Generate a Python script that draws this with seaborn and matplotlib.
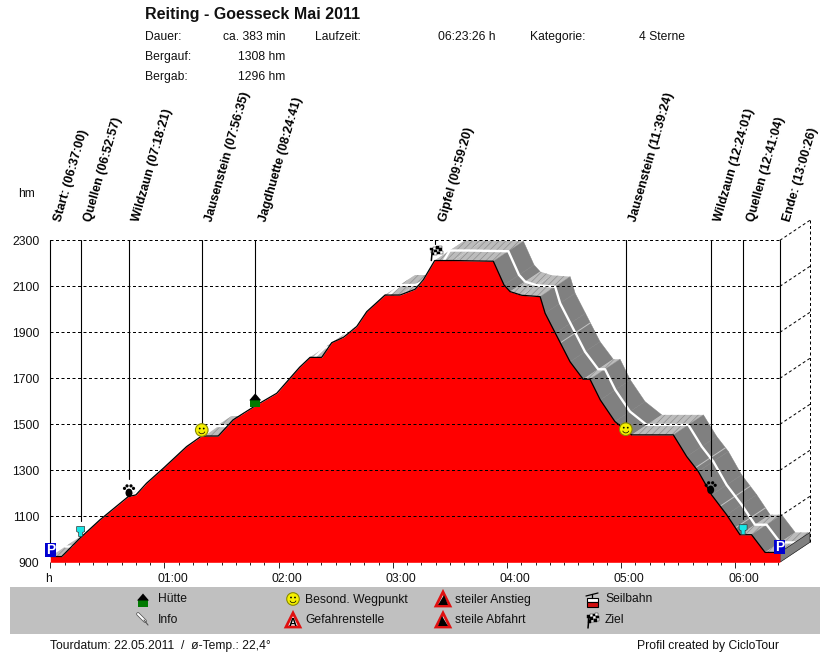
import matplotlib
matplotlib.use("Agg")
import matplotlib.pyplot as plt
from matplotlib.patches import Circle, Ellipse, Polygon, Rectangle, Wedge
from matplotlib.transforms import ScaledTranslation
import numpy as np
import pandas as pd
import seaborn as sns

# elevation profile
minutes = [0, 6, 15.6, 26, 41, 45, 50.6, 59.4, 71.6, 79.5, 88.3, 96, 108.4, 119, 131,
           136.5, 142.6, 147.9, 154, 161, 166.3, 175.9, 183.8, 191.7, 196, 202, 211.8,
           232.8, 238.4, 241.6, 247.7, 257.4, 260, 265.4, 273.1, 280, 283.6, 289, 296.7,
           305.5, 327.4, 334.4, 340.5, 347.5, 355.4, 362.4, 368.5, 375.6, 383.4]
elevation = [925, 925, 1005, 1084, 1186, 1193, 1244, 1309, 1403, 1449, 1449, 1519, 1584, 1635, 1748,
             1791, 1791, 1855, 1878, 1925, 1990, 2062, 2062, 2087, 2128, 2212, 2212,
             2209, 2106, 2077, 2061, 2055, 1983, 1896, 1772, 1696, 1696, 1606, 1512,
             1454, 1454, 1360, 1295, 1193, 1107, 1020, 1020, 943, 943]

way_names = ["Start:", "Quellen", "Wildzaun", "Jausenstein", "Jagdhuette", "Gipfel",
             "Jausenstein", "Wildzaun", "Quellen", "Ende:"]
way_times = ["06:37:00", "06:52:57", "07:18:21", "07:56:35", "08:24:41", "09:59:20",
             "11:39:24", "12:24:01", "12:41:04", "13:00:26"]
way_icons = ["park", "cup", "paw", "smile", "hut", "flag", "smile", "paw", "cup", "park"]
way_lift = [7, 6, 6, 6, 6, 8, 1, 6, 5, 5]

# light streaks across the dark ribbon
streak_times = [268, 339, 352, 360]

y_ticks = [900, 1100, 1300, 1500, 1700, 1900, 2100, 2300]
x_ticks = [0, 60, 120, 180, 240, 300, 360]
x_labels = ["h", "01:00", "02:00", "03:00", "04:00", "05:00", "06:00"]

legend_rows = [("Hütte", "Info"), ("Besond. Wegpunkt", "Gefahrenstelle"),
               ("steiler Anstieg", "steile Abfahrt"), ("Seilbahn", "Ziel")]

W, H = 830, 652
PX_MIN = 1.903
PX_HM = 0.23
X0, Y0 = 50.3, 562.3
DEPTH_MIN, DEPTH_HM = 15.8, 87

sns.set_style("white")
plt.rcParams["font.family"] = ["Liberation Sans", "DejaVu Sans"]
plt.rcParams["hatch.linewidth"] = 0.5
plt.rcParams["text.color"] = "#111111"
FS = 8.7

df = pd.DataFrame({"minutes": minutes, "elevation": elevation})
t = df["minutes"].to_numpy()
e = df["elevation"].to_numpy()

fig = plt.figure(figsize=(W / 100, H / 100), dpi=100, facecolor="white")
right_px, top_px = 818, 212
ax = fig.add_axes([X0 / W, (H - Y0) / H, (right_px - X0) / W, (Y0 - top_px) / H])
ax.set_xlim(0, (right_px - X0) / PX_MIN)
ax.set_ylim(900, 900 + (Y0 - top_px) / PX_HM)
ax.patch.set_alpha(0)

# the 3D ribbon behind the profile
for i in range(len(t) - 1):
    slope = (e[i + 1] - e[i]) / (t[i + 1] - t[i])
    quad = [(t[i], e[i]), (t[i + 1], e[i + 1]),
            (t[i + 1] + DEPTH_MIN, e[i + 1] + DEPTH_HM), (t[i] + DEPTH_MIN, e[i] + DEPTH_HM)]
    if slope < -3:
        ax.add_patch(Polygon(quad, facecolor="#808080", edgecolor="#808080", lw=0.3, zorder=1))
    else:
        ax.add_patch(Polygon(quad, facecolor="#bcbcbc", edgecolor="#8e8e8e", hatch="/////", lw=0, zorder=1))

for st in streak_times:
    se = np.interp(st, t, e)
    ax.plot([st, st + DEPTH_MIN], [se, se + DEPTH_HM], color="#c4c4c4", lw=0.7, zorder=1.5)

sns.lineplot(x=t + DEPTH_MIN / 2, y=e + DEPTH_HM / 2, color="white", lw=1.7, ax=ax, zorder=2, sort=False)

# end face of the ribbon
ax.add_patch(Polygon([(t[-1], 900), (t[-1], e[-1]), (t[-1] + DEPTH_MIN, e[-1] + DEPTH_HM),
                      (t[-1] + DEPTH_MIN, 900 + DEPTH_HM)],
                     facecolor="#808080", edgecolor="black", lw=0.4, zorder=2))

ax.fill_between(t, 900, e, color="#ff0000", lw=0, zorder=3)
sns.lineplot(data=df, x="minutes", y="elevation", color="black", lw=0.9, ax=ax, zorder=4)

# grid and back wall
dash = (0, (3, 2.5))
for y in y_ticks[1:]:
    ax.plot([0, t[-1]], [y, y], color="black", lw=0.72, ls=dash, zorder=5)
    ax.plot([t[-1], t[-1] + DEPTH_MIN], [y, y + DEPTH_HM], color="black", lw=0.72, ls=dash, zorder=5)
ax.plot([t[-1] + DEPTH_MIN] * 2, [900 + DEPTH_HM, 2300 + DEPTH_HM], color="black", lw=0.72, ls=dash, zorder=5)

ax.set_yticks(y_ticks)
ax.set_xticks(x_ticks, x_labels)
ax.set_xticks(np.arange(0, 383, 7.5), minor=True)
ax.set_xlabel("")
ax.set_ylabel("")
ax.tick_params(axis="y", length=0, pad=8, labelsize=FS, labelcolor="#111111")
ax.tick_params(axis="x", which="major", length=4, width=0.7, pad=4, labelsize=FS, labelcolor="#111111", bottom=True)
ax.tick_params(axis="x", which="minor", length=2, width=0.7, bottom=True)
for lbl in ax.get_xticklabels():
    if lbl.get_text() != "h":
        lbl.set_transform(lbl.get_transform() + ScaledTranslation(8 / 100, 0, fig.dpi_scale_trans))
    else:
        lbl.set_transform(lbl.get_transform() + ScaledTranslation(-2 / 100, 0, fig.dpi_scale_trans))
sns.despine(ax=ax, left=True, bottom=True, top=True, right=True)

# overlay in picture pixels for header, legend and icons
ov = fig.add_axes([0, 0, 1, 1], zorder=10)
ov.set_xlim(0, W)
ov.set_ylim(H, 0)
ov.axis("off")


def park(x, y):
    ov.add_patch(Rectangle((x - 5.5, y - 7), 11, 14, color="#0000d0", lw=0))
    ov.text(x, y, "P", color="white", fontsize=10, fontweight="bold", ha="center", va="center")


def cup(x, y):
    ov.add_patch(Polygon([(x - 4, y - 5), (x + 4, y - 5), (x + 4, y), (x + 2, y + 1), (x + 2, y + 5),
                          (x - 2, y + 5), (x - 2, y + 1), (x - 4, y)],
                         facecolor="#19e6e6", edgecolor="#333333", lw=0.5))


def paw(x, y):
    ov.add_patch(Ellipse((x, y + 2.5), 7, 8.5, color="black", lw=0))
    for dx, dy in [(-4.5, -2), (-2, -4.5), (2, -4.5), (4.5, -2)]:
        ov.add_patch(Circle((x + dx, y + dy), 1.6, color="black", lw=0))


def smile(x, y):
    ov.add_patch(Circle((x, y), 6.3, facecolor="#f5f000", edgecolor="#8a8a00", lw=0.8))
    ov.add_patch(Circle((x - 2, y - 1.5), 0.9, color="black", lw=0))
    ov.add_patch(Circle((x + 2, y - 1.5), 0.9, color="black", lw=0))
    ov.add_patch(Wedge((x, y + 0.5), 3.6, 20, 160, width=0.7, color="black", lw=0))


def hut(x, y):
    ov.add_patch(Rectangle((x - 5, y), 10, 7, color="#007a00", lw=0))
    ov.add_patch(Polygon([(x - 6, y + 0.5), (x, y - 6.5), (x + 6, y + 0.5)], color="black", lw=0))


def flag(x, y):
    ov.plot([x - 3, x - 4], [y - 3, y + 8], color="black", lw=1.1)
    for row in range(3):
        for col in range(4):
            sx = x - 5 + col * 2.8 + row * 0.6
            sy = y - 5 + row * 2.6 - col * 0.6
            c = "black" if (row + col) % 2 == 0 else "white"
            ov.add_patch(Rectangle((sx, sy), 2.8, 2.6, facecolor=c, edgecolor="black", lw=0.3))


def info(x, y):
    ov.plot([x - 5, x + 2], [y - 6, y + 1], color="#555555", lw=2.6, solid_capstyle="round")
    ov.plot([x - 5, x + 2], [y - 6, y + 1], color="white", lw=1.5, solid_capstyle="round")
    ov.plot([x + 1, x + 5], [y, y + 5], color="#555555", lw=0.8)


def warn(x, y, kind):
    ov.add_patch(Polygon([(x - 7, y + 7), (x, y - 7), (x + 7, y + 7)], facecolor="white",
                         edgecolor="#e01010", lw=2, joinstyle="miter"))
    if kind == "danger":
        ov.text(x, y + 2.5, "A", color="black", fontsize=8, fontweight="bold", ha="center", va="center")
    elif kind == "up":
        ov.add_patch(Polygon([(x - 5, y + 6), (x + 5, y + 6), (x + 1, y - 4)], color="black", lw=0))
    else:
        ov.add_patch(Polygon([(x - 5, y + 6), (x + 5, y + 6), (x - 1, y - 4)], color="black", lw=0))


def cable(x, y):
    ov.plot([x - 6, x + 6], [y - 4, y - 7], color="black", lw=0.9)
    ov.plot([x, x], [y - 6, y - 2], color="black", lw=0.9)
    ov.add_patch(Rectangle((x - 5.5, y - 2), 11, 4, facecolor="white", edgecolor="black", lw=0.8))
    ov.add_patch(Rectangle((x - 5.5, y + 2), 11, 4.5, facecolor="#d01010", edgecolor="black", lw=0.8))


icon_draw = {"park": park, "cup": cup, "paw": paw, "smile": smile, "hut": hut, "flag": flag}
icon_half = {"park": 7, "cup": 11, "paw": 11, "smile": 6, "hut": 6, "flag": 9}

# waypoints
for name, clock, icon, lift in zip(way_names, way_times, way_icons, way_lift):
    h, m, s = [int(v) for v in clock.split(":")]
    tm = h * 60 + m + s / 60 - (6 * 60 + 37)
    ele = np.interp(tm, t, e)
    px, py = ax.transData.transform((tm, ele))
    py = H - py - lift
    ax_top = ax.transData.transform((tm, 2300))[1]
    ov.plot([px, px], [H - ax_top, py - icon_half[icon]], color="black", lw=0.8, zorder=1)
    icon_draw[icon](px, py)
    ov.text(px + 10.5, 222, f"{name} ({clock})", rotation=74, rotation_mode="anchor",
            ha="left", va="baseline", fontsize=FS + 0.3, fontweight="bold", color="black")

# header
ov.text(145, 14, "Reiting - Goesseck Mai 2011", fontsize=11.5, fontweight="bold", va="center")
ov.text(145, 37, "Dauer:", fontsize=FS, va="center")
ov.text(285, 37, "ca. 383 min", fontsize=FS, va="center", ha="right")
ov.text(315, 37, "Laufzeit:", fontsize=FS, va="center")
ov.text(495, 37, "06:23:26 h", fontsize=FS, va="center", ha="right")
ov.text(530, 37, "Kategorie:", fontsize=FS, va="center")
ov.text(685, 37, "4 Sterne", fontsize=FS, va="center", ha="right")
ov.text(145, 57, "Bergauf:", fontsize=FS, va="center")
ov.text(285, 57, "1308 hm", fontsize=FS, va="center", ha="right")
ov.text(145, 77, "Bergab:", fontsize=FS, va="center")
ov.text(285, 77, "1296 hm", fontsize=FS, va="center", ha="right")
ov.text(18, 194, "hm", fontsize=FS, va="center")

# legend band
ov.add_patch(Rectangle((10, 587), 810, 47, color="#c0c0c0", lw=0))
col_icon = [143, 293, 443, 592]
col_text = [158, 305, 455, 605]
for ci, ct, (top, bottom) in zip(col_icon, col_text, legend_rows):
    ov.text(ct, 599.5, top, fontsize=FS, va="center")
    ov.text(ct, 620, bottom, fontsize=FS, va="center")
hut(col_icon[0], 600)
info(col_icon[0], 620)
smile(col_icon[1], 599)
warn(col_icon[1], 620, "danger")
warn(col_icon[2], 599, "up")
warn(col_icon[2], 620, "down")
cable(col_icon[3], 600)
flag(col_icon[3], 620)

ov.text(50, 646, "Tourdatum: 22.05.2011  /  ø-Temp.: 22,4°", fontsize=FS, va="center")
ov.text(637, 646, "Profil created by CicloTour", fontsize=FS, va="center")

fig.savefig("out.png", dpi=100)
